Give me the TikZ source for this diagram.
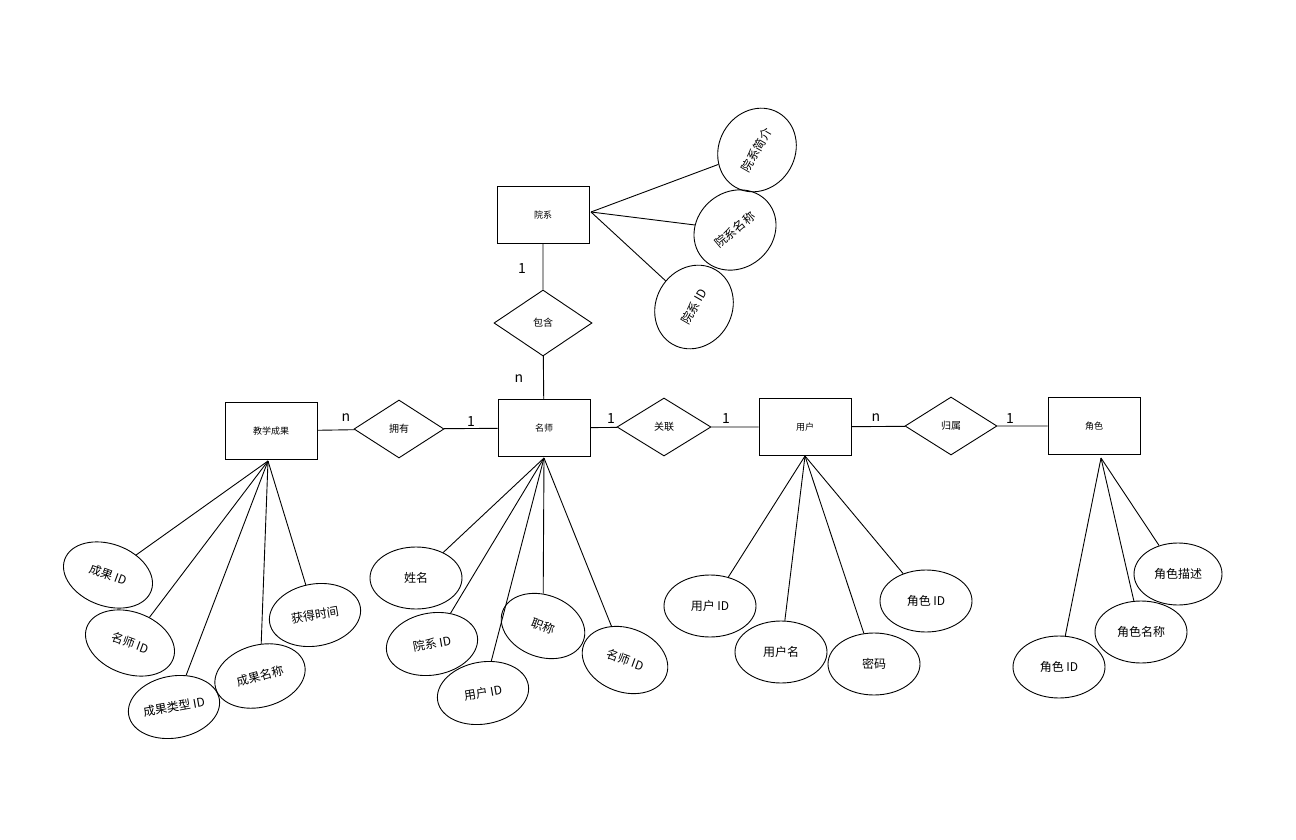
\documentclass[tikz,border=0pt]{standalone}
\usepackage{fontspec}
\setmainfont{Noto Sans CJK SC}
\usetikzlibrary{shapes.geometric}
\begin{document}
\begin{tikzpicture}[x=1pt,y=-1pt,line width=0.9pt,
 ent/.style={draw,minimum width=92pt,minimum height=57pt,font=\fontsize{9}{10}\selectfont},
 rel/.style={draw,diamond,aspect=1.6,inner sep=0pt,minimum width=92pt,minimum height=58pt,font=\fontsize{10}{12}\selectfont},
 att/.style={draw,ellipse,minimum width=92pt,minimum height=62pt,inner sep=0pt,font=\fontsize{12}{14}\selectfont},
 lab/.style={font=\fontsize{14}{16}\selectfont}]
\useasboundingbox (0,0) rectangle (1296,840);
\node[ent] (yx) at (543,215) {院系};
\node[ent] (ms) at (544,428) {名师};
\node[ent] (jx) at (271,431) {教学成果};
\node[ent] (yh) at (805,427) {用户};
\node[ent] (js) at (1094,426) {角色};
\node[rel,minimum width=98pt,minimum height=66pt] (bh) at (543,323) {包含};
\node[rel,minimum width=90pt] (yy) at (399,429) {拥有};
\node[rel,minimum width=94pt] (gl) at (664,427) {关联};
\node[rel] (gs) at (951,426) {归属};
\draw (yx) -- (bh) -- (ms);
\draw (jx) -- (yy) -- (ms) -- (gl) -- (yh) -- (gs) -- (js);
\node[lab] at (522,269) {1};
\node[lab] at (519,379) {n};
\node[lab] at (346,418) {n};
\node[lab] at (471,422) {1};
\node[lab] at (611,419) {1};
\node[lab] at (726,419) {1};
\node[lab] at (876,418) {n};
\node[lab] at (1010,419) {1};
% 院系 attributes
\node[att,minimum width=86pt,minimum height=76pt,rotate=60] (a1) at (757,150) {院系简介};
\node[att,minimum width=86pt,minimum height=76pt,rotate=40] (a2) at (735,230) {院系名称};
\node[att,minimum width=86pt,minimum height=76pt,rotate=60] (a3) at (694,307) {院系 ID};
\coordinate (yr) at (591,212);
\draw (yr) -- (a1); \draw (yr) -- (a2); \draw (yr) -- (a3);
% 教学成果 attributes
\coordinate (jb) at (268,461);
\node[att,rotate=-20] (b1) at (108,575) {成果 ID};
\node[att,rotate=-20] (b2) at (130,643) {名师 ID};
\node[att,rotate=10] (b3) at (174,707) {成果类型 ID};
\node[att,rotate=15] (b4) at (260,676) {成果名称};
\node[att,rotate=10] (b5) at (315,615) {获得时间};
\foreach \n in {b1,b2,b3,b4,b5} \draw (jb) -- (\n);
% 名师 attributes
\coordinate (mb) at (544,458);
\node[att] (c1) at (416,578) {姓名};
\node[att,rotate=10] (c2) at (432,644) {院系 ID};
\node[att,rotate=10] (c3) at (483,693) {用户 ID};
\node[att,minimum width=86pt,rotate=-20] (c4) at (543,626) {职称};
\node[att,minimum width=88pt,minimum height=64pt,rotate=-20] (c5) at (625,660) {名师 ID};
\foreach \n in {c1,c2,c3,c4,c5} \draw (mb) -- (\n);
% 用户 attributes
\coordinate (ub) at (805,456);
\node[att] (d1) at (710,606) {用户 ID};
\node[att] (d2) at (781,652) {用户名};
\node[att] (d3) at (874,664) {密码};
\node[att] (d4) at (926,601) {角色 ID};
\foreach \n in {d1,d2,d3,d4} \draw (ub) -- (\n);
% 角色 attributes
\coordinate (rb) at (1101,458);
\node[att] (e1) at (1059,667) {角色 ID};
\node[att] (e2) at (1141,632) {角色名称};
\node[att,minimum width=88pt] (e3) at (1178,574) {角色描述};
\foreach \n in {e1,e2,e3} \draw (rb) -- (\n);
\end{tikzpicture}
\end{document}
